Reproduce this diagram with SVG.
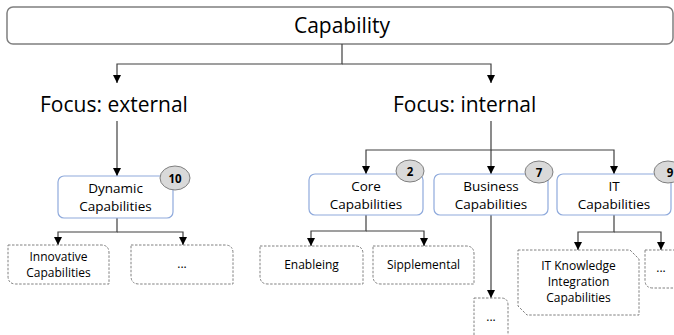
<svg xmlns="http://www.w3.org/2000/svg" width="674" height="335" viewBox="0 0 674 335">
  <style>
    .txt { font-family: "Open Sans", "Liberation Sans", Arial, sans-serif; fill: #000; text-anchor: middle; }
    .cap { font-size: 13.5px; }
    .child { font-size: 12px; }
    .focus { font-size: 21px; text-anchor: start; }
    .node { fill: #fff; stroke: #8faadc; stroke-width: 1.2; }
    .dash { fill: #fff; stroke: #808080; stroke-width: 1; stroke-dasharray: 2.5 1.5; }
    .badge { fill: #d9d9d9; stroke: #7f7f7f; stroke-width: 1; }
    .num { font-family: "Open Sans", "Liberation Sans", Arial, sans-serif; font-size: 11.5px; font-weight: bold; text-anchor: middle; fill: #000; }
    .wire { fill: none; stroke: #404040; stroke-width: 1.2; }
  </style>
  <defs>
    <marker id="arrow" viewBox="0 0 10 10" refX="10" refY="5" markerWidth="8" markerHeight="8" markerUnits="userSpaceOnUse" orient="auto">
      <path d="M0,0 L10,5 L0,10 Z" fill="#000"/>
    </marker>
  </defs>

  <!-- root -->
  <g id="capability">
    <rect x="7" y="7" width="666" height="37" rx="6" fill="#fff" stroke="#7f7f7f" stroke-width="1.5"/>
    <text class="txt" x="342" y="33" font-size="21">Capability</text>
  </g>

  <g id="focus-external">
    <text class="txt focus" x="40" y="112">Focus: external</text>
  </g>
  <g id="focus-internal">
    <text class="txt focus" x="393" y="112">Focus: internal</text>
  </g>

  <!-- connectors -->
  <g id="connectors" class="wire">
    <path d="M342,44 V64 H117 V83" marker-end="url(#arrow)"/>
    <path d="M342,64 H491 V83" marker-end="url(#arrow)"/>
    <path d="M117,121 V176" marker-end="url(#arrow)"/>
    <path d="M117,218 V232 H58 V245" marker-end="url(#arrow)"/>
    <path d="M117,232 H183 V245" marker-end="url(#arrow)"/>
    <path d="M491,121 V150 H366 V174" marker-end="url(#arrow)"/>
    <path d="M491,150 V174" marker-end="url(#arrow)"/>
    <path d="M491,150 H614 V174" marker-end="url(#arrow)"/>
    <path d="M366,215 V231 H311 V246" marker-end="url(#arrow)"/>
    <path d="M366,231 H424 V246" marker-end="url(#arrow)"/>
    <path d="M491,215 V298" marker-end="url(#arrow)"/>
    <path d="M614,215 V232 H578 V250" marker-end="url(#arrow)"/>
    <path d="M614,232 H661 V250" marker-end="url(#arrow)"/>
  </g>

  <!-- external branch -->
  <g id="dynamic">
    <rect class="node" x="58" y="176" width="115" height="42" rx="6"/>
    <text class="txt cap" x="115.5" y="193">Dynamic</text>
    <text class="txt cap" x="115.5" y="211">Capabilities</text>
    <ellipse class="badge" cx="175" cy="178" rx="15" ry="12"/>
    <text class="num" x="175" y="182.5">10</text>
  </g>
  <g id="innovative">
    <path class="dash" d="M8,245 H101 Q109,245 109,253 V284 H16 Q8,284 8,276 Z"/>
    <text class="txt child" x="58.5" y="261">Innovative</text>
    <text class="txt child" x="58.5" y="277">Capabilities</text>
  </g>
  <g id="dynamic-more">
    <path class="dash" d="M131,245 H225 Q233,245 233,253 V284 H139 Q131,284 131,276 Z"/>
    <text class="txt child" x="182" y="268">...</text>
  </g>

  <!-- internal branch -->
  <g id="core">
    <rect class="node" x="309" y="174" width="114" height="41" rx="6"/>
    <text class="txt cap" x="366" y="191">Core</text>
    <text class="txt cap" x="366" y="209">Capabilities</text>
    <ellipse class="badge" cx="410" cy="171" rx="14" ry="11"/>
    <text class="num" x="410" y="175.5">2</text>
  </g>
  <g id="business">
    <rect class="node" x="434" y="174" width="114" height="41" rx="6"/>
    <text class="txt cap" x="491" y="191">Business</text>
    <text class="txt cap" x="491" y="209">Capabilities</text>
    <ellipse class="badge" cx="539" cy="172" rx="14" ry="11"/>
    <text class="num" x="539" y="176.5">7</text>
  </g>
  <g id="it">
    <rect class="node" x="557" y="174" width="114" height="41" rx="6"/>
    <text class="txt cap" x="614" y="191">IT</text>
    <text class="txt cap" x="614" y="209">Capabilities</text>
    <ellipse class="badge" cx="668" cy="172" rx="14" ry="11"/>
    <text class="num" x="670" y="176.5">9</text>
  </g>

  <g id="enableing">
    <path class="dash" d="M260,246 H355 Q363,246 363,254 V284 H268 Q260,284 260,276 Z"/>
    <text class="txt child" x="311.5" y="269">Enableing</text>
  </g>
  <g id="sipplemental">
    <path class="dash" d="M373,246 H466 Q474,246 474,254 V284 H381 Q373,284 373,276 Z"/>
    <text class="txt child" x="423.5" y="269">Sipplemental</text>
  </g>
  <g id="business-more">
    <path class="dash" d="M474,298 H501 Q508,298 508,305 V340 H474 Z"/>
    <text class="txt child" x="491" y="321">...</text>
  </g>
  <g id="it-knowledge">
    <path class="dash" d="M518,250 H630 L639,259 V315 H527 L518,306 Z"/>
    <text class="txt child" x="578.5" y="270">IT Knowledge</text>
    <text class="txt child" x="578.5" y="286">Integration</text>
    <text class="txt child" x="578.5" y="302">Capabilities</text>
  </g>
  <g id="it-more">
    <path class="dash" d="M645,250 H680 V288 H653 Q645,288 645,280 Z"/>
    <text class="txt child" x="661" y="272">...</text>
  </g>
</svg>
